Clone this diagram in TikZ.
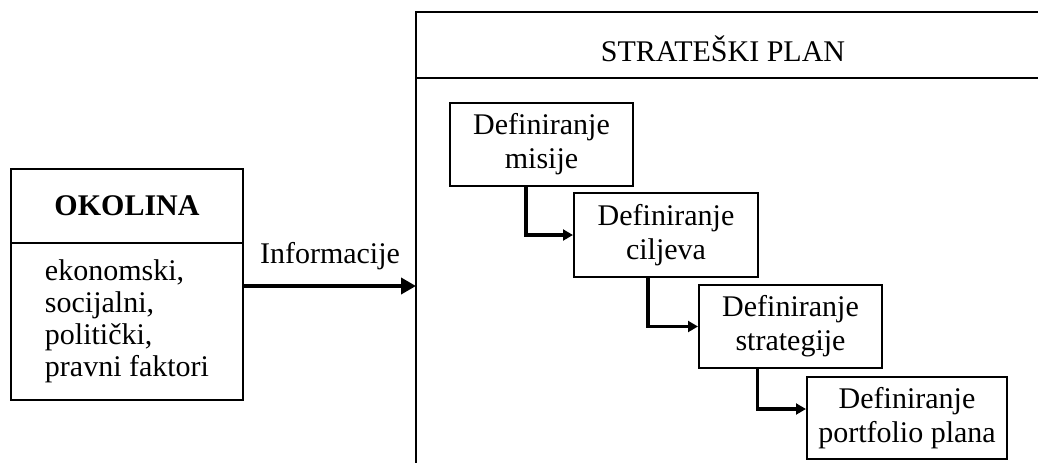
\documentclass[tikz,border=0pt]{standalone}
\usepackage{fontspec}
\setmainfont{Liberation Serif}
\usetikzlibrary{arrows.meta}

\tikzset{
  okvir/.style={line width=1.2pt},
  korak/.style={draw,line width=1.2pt,align=center,inner sep=0pt,
    font=\fontsize{18}{20.4}\selectfont},
  strelica/.style={line width=2pt,-{Triangle[length=6pt,width=6.5pt]}},
  glavna/.style={line width=2.4pt,-{Triangle[length=9pt,width=9.6pt]}}
}

\begin{document}
\begin{tikzpicture}[x=0.6pt,y=-0.6pt]
  \useasboundingbox (0,0) rectangle (1038,462);

  % okvir strateskog plana
  \draw[okvir] (1045,12) -- (416,12) -- (416,470);
  \draw[okvir] (416,78) -- (1045,78);
  \node (plan) [anchor=base,font=\fontsize{18}{20}\selectfont] at (723,61) {STRATEŠKI PLAN};
  \coordinate (rub) at (416,286);

  % okolina
  \node (okolina) [korak,font=\fontsize{18}{20}\selectfont\bfseries,
    minimum width=139.2pt,minimum height=44.4pt] at (127,206) {OKOLINA};
  \node (faktori) [korak,align=left,font=\fontsize{18}{19.2}\selectfont,
    minimum width=139.2pt,minimum height=94.2pt] at (127,321.5)
    {ekonomski,\\socijalni,\\politički,\\pravni faktori};

  % koraci
  \begin{scope}[every node/.style={korak,minimum width=109.8pt,minimum height=49.8pt}]
    \node (misija)    at (541.5,144.5) {Definiranje\\misije};
    \node (ciljevi)   at (666,235)     [minimum width=110.4pt,minimum height=50.4pt] {Definiranje\\ciljeva};
    \node (strategija) at (790.5,326.5) {Definiranje\\strategije};
    \node (portfolio) at (907,418)     [minimum width=120pt,minimum height=49.2pt] {Definiranje\\portfolio plana};
  \end{scope}

  \draw[glavna] (faktori.east |- rub) -- node[above=5pt,font=\fontsize{18}{20}\selectfont] {Informacije} (rub);

  \draw[strelica] ([xshift=-9.3pt]misija.south) |- (ciljevi.west);
  \draw[strelica] ([xshift=-10.8pt]ciljevi.south) |- (strategija.west);
  \draw[strelica] ([xshift=-19.8pt]strategija.south) |- ([yshift=5.4pt]portfolio.west);

\end{tikzpicture}
\end{document}
